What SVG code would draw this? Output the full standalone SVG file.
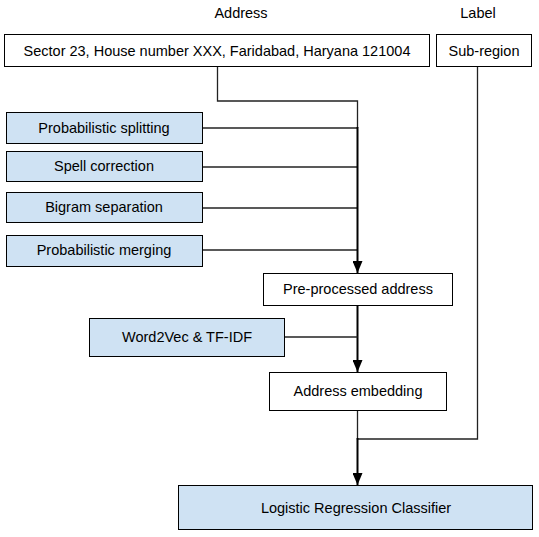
<svg xmlns="http://www.w3.org/2000/svg" width="539" height="537" viewBox="0 0 539 537">
<defs>
<style>
text{font-family:"Liberation Sans",Arial,sans-serif;font-size:14.5px;fill:#000;text-anchor:middle}
.w{fill:#fff;stroke:#000;stroke-width:1}
.b{fill:#cfe2f3;stroke:#000;stroke-width:1}
.c{fill:none;stroke:#222;stroke-width:1.3}
.m{fill:none;stroke:#000;stroke-width:2}
</style>
<marker id="ad" viewBox="0 0 12 10" refX="12" refY="5" markerWidth="12" markerHeight="10" markerUnits="userSpaceOnUse" orient="auto">
<path d="M0,0 L12,5 L0,10 Z" fill="#000"/>
</marker>
</defs>
<rect width="539" height="537" fill="#fff"/>
<text x="241" y="18">Address</text>
<text x="478" y="18">Label</text>
<g id="connectors">
<path class="c" d="M217.5,67 V101 H357.5 V128"/>
<path class="c" d="M202,128 H357.5"/>
<path class="c" d="M202,167 H357.5"/>
<path class="c" d="M202,208 H357.5"/>
<path class="c" d="M202,250 H357.5"/>
<path class="m" d="M357.5,127 V273" marker-end="url(#ad)"/>
<path class="m" d="M357.5,306 V372" marker-end="url(#ad)"/>
<path class="c" d="M285,337 H357.5"/>
<path class="c" d="M357.5,410 V439 H477.5 V67"/>
<path class="m" d="M357.5,438 V485" marker-end="url(#ad)"/>
</g>
<g id="address"><rect class="w" x="4.5" y="34.5" width="425" height="32"/><text x="217" y="56">Sector 23, House number XXX, Faridabad, Haryana 121004</text></g>
<g id="subregion"><rect class="w" x="436.5" y="34.5" width="95" height="32"/><text x="484" y="56">Sub-region</text></g>
<g id="splitting"><rect class="b" x="6.5" y="112.5" width="196" height="31"/><text x="104" y="133">Probabilistic splitting</text></g>
<g id="spell"><rect class="b" x="6.5" y="151.5" width="196" height="30"/><text x="104" y="171">Spell correction</text></g>
<g id="bigram"><rect class="b" x="6.5" y="192.5" width="196" height="30"/><text x="104" y="212">Bigram separation</text></g>
<g id="merging"><rect class="b" x="6.5" y="235.5" width="196" height="31"/><text x="104" y="255">Probabilistic merging</text></g>
<g id="preprocessed"><rect class="w" x="263.5" y="273.5" width="189" height="32"/><text x="358" y="294">Pre-processed address</text></g>
<g id="word2vec"><rect class="b" x="89.5" y="318.5" width="195" height="38"/><text x="187" y="342">Word2Vec &amp; TF-IDF</text></g>
<g id="embedding"><rect class="w" x="269.5" y="372.5" width="177" height="38"/><text x="358" y="396">Address embedding</text></g>
<g id="classifier"><rect class="b" x="178.5" y="485.5" width="354" height="44"/><text x="356" y="513">Logistic Regression Classifier</text></g>
</svg>
